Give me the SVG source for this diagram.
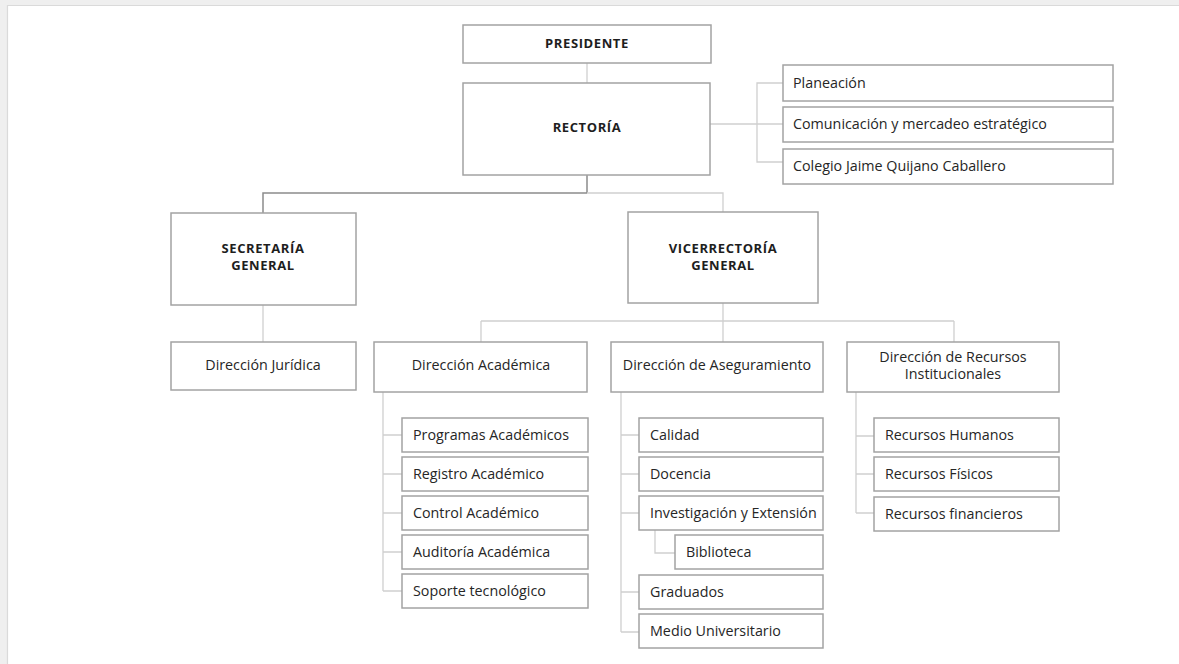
<svg xmlns="http://www.w3.org/2000/svg" width="1179" height="664" viewBox="0 0 1179 664">
<style>
.box{fill:#fff;stroke:#a3a3a3;stroke-width:1.5}
.ln{fill:none;stroke:#cfcfcf;stroke-width:1.3}
.dk{fill:none;stroke:#8c8c8c;stroke-width:1.5}
.t{font-family:"Open Sans","Noto Sans",sans-serif;font-size:14.3px;fill:#262626}
.c{text-anchor:middle}
.b{font-family:"Open Sans","Noto Sans",sans-serif;font-size:13px;font-weight:bold;fill:#1e1e1e;text-anchor:middle;letter-spacing:0.6px}
</style>
<rect x="0" y="0" width="1179" height="664" fill="#fff"/>
<rect x="0" y="0" width="7" height="664" fill="#efefef"/>
<rect x="0" y="0" width="1179" height="5" fill="#efefef"/>
<path d="M7.5 5 V664 M7 5.5 H1179" stroke="#dadada" stroke-width="1.2" fill="none"/>
<g id="connectors">
<path class="ln" d="M587 63 V83"/>
<path class="ln" d="M710 124 H783 M783 83 H757 V162 H783"/>
<path class="dk" d="M587 175 V193 M587 193 H263 V213"/>
<path class="ln" d="M587 193 H723 V212"/>
<path class="ln" d="M263 305 V342"/>
<path class="ln" d="M723 303 V342 M481 321 H954 M481 321 V342 M954 321 V342"/>
<path class="ln" d="M383 392 V591 M383 435 H402 M383 474 H402 M383 513 H402 M383 552 H402 M383 591 H402"/>
<path class="ln" d="M621 392 V632 M621 435 H639 M621 474 H639 M621 513 H639 M621 592 H639 M621 632 H639"/>
<path class="ln" d="M655 530 V553 H675"/>
<path class="ln" d="M856 392 V513 M856 436 H874 M856 474 H874 M856 513 H874"/>
</g>
<g id="presidente"><rect class="box" x="463" y="25" width="248" height="38"/><text class="b" x="587" y="48">PRESIDENTE</text></g>
<g id="rectoria"><rect class="box" x="463" y="83" width="247" height="92"/><text class="b" x="587" y="132">RECTORÍA</text></g>
<g id="planeacion"><rect class="box" x="783" y="65" width="330" height="36"/><text class="t" x="793" y="88">Planeación</text></g>
<g id="comunicacion"><rect class="box" x="783" y="107" width="330" height="35"/><text class="t" x="793" y="129">Comunicación y mercadeo estratégico</text></g>
<g id="colegio"><rect class="box" x="783" y="149" width="330" height="35"/><text class="t" x="793" y="171">Colegio Jaime Quijano Caballero</text></g>
<g id="secretaria"><rect class="box" x="171" y="213" width="185" height="92"/><text class="b" x="263" y="253">SECRETARÍA</text><text class="b" x="263" y="270">GENERAL</text></g>
<g id="vicerrectoria"><rect class="box" x="628" y="212" width="190" height="91"/><text class="b" x="723" y="253">VICERRECTORÍA</text><text class="b" x="723" y="270">GENERAL</text></g>
<g id="juridica"><rect class="box" x="171" y="342" width="185" height="48"/><text class="t c" x="263" y="370">Dirección Jurídica</text></g>
<g id="academica"><rect class="box" x="374" y="342" width="213" height="50"/><text class="t c" x="481" y="370">Dirección Académica</text></g>
<g id="aseguramiento"><rect class="box" x="611" y="342" width="212" height="50"/><text class="t c" x="717" y="370">Dirección de Aseguramiento</text></g>
<g id="recursos"><rect class="box" x="847" y="342" width="212" height="50"/><text class="t c" x="953" y="362">Dirección de Recursos</text><text class="t c" x="953" y="379">Institucionales</text></g>
<g id="programas"><rect class="box" x="402" y="418" width="186" height="34"/><text class="t" x="413" y="440">Programas Académicos</text></g>
<g id="registro"><rect class="box" x="402" y="457" width="186" height="34"/><text class="t" x="413" y="479">Registro Académico</text></g>
<g id="control"><rect class="box" x="402" y="496" width="186" height="34"/><text class="t" x="413" y="518">Control Académico</text></g>
<g id="auditoria"><rect class="box" x="402" y="535" width="186" height="34"/><text class="t" x="413" y="557">Auditoría Académica</text></g>
<g id="soporte"><rect class="box" x="402" y="574" width="186" height="34"/><text class="t" x="413" y="596">Soporte tecnológico</text></g>
<g id="calidad"><rect class="box" x="639" y="418" width="184" height="34"/><text class="t" x="650" y="440">Calidad</text></g>
<g id="docencia"><rect class="box" x="639" y="457" width="184" height="34"/><text class="t" x="650" y="479">Docencia</text></g>
<g id="investigacion"><rect class="box" x="639" y="496" width="184" height="34"/><text class="t" x="650" y="518">Investigación y Extensión</text></g>
<g id="biblioteca"><rect class="box" x="675" y="535" width="148" height="34"/><text class="t" x="686" y="557">Biblioteca</text></g>
<g id="graduados"><rect class="box" x="639" y="575" width="184" height="34"/><text class="t" x="650" y="597">Graduados</text></g>
<g id="medio"><rect class="box" x="639" y="614" width="184" height="34"/><text class="t" x="650" y="636">Medio Universitario</text></g>
<g id="humanos"><rect class="box" x="874" y="418" width="185" height="34"/><text class="t" x="885" y="440">Recursos Humanos</text></g>
<g id="fisicos"><rect class="box" x="874" y="457" width="185" height="34"/><text class="t" x="885" y="479">Recursos Físicos</text></g>
<g id="financieros"><rect class="box" x="874" y="497" width="185" height="34"/><text class="t" x="885" y="519">Recursos financieros</text></g>
</svg>
